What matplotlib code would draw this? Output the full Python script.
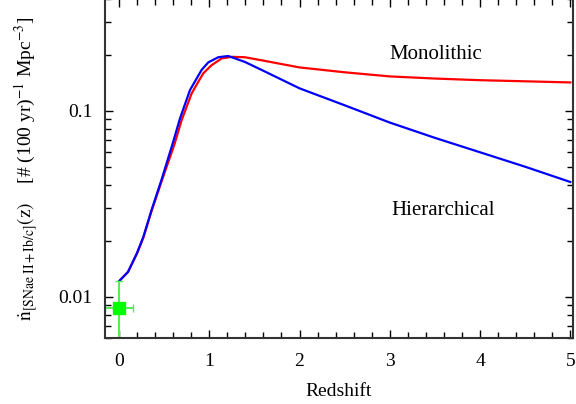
import numpy as np
import matplotlib.pyplot as plt
from matplotlib.ticker import MultipleLocator, LogLocator, NullFormatter, FixedLocator, FixedFormatter

plt.rcParams['font.family'] = ['Liberation Serif', 'DejaVu Serif']
plt.rcParams['mathtext.fontset'] = 'stix'

# SN II + Ib/c rate density vs redshift
z_hier = [0.0, 0.1, 0.2, 0.27, 0.36, 0.47, 0.59, 0.676, 0.786, 0.86, 0.916, 0.989, 1.1, 1.21, 1.395, 1.6, 2.0, 2.5, 3.0, 3.5, 4.0, 4.5, 5.0]
n_hier = [0.0121, 0.0136, 0.0172, 0.0210, 0.0292, 0.0424, 0.0655, 0.091, 0.129, 0.149, 0.166, 0.182, 0.194, 0.197, 0.183, 0.164, 0.132, 0.107, 0.0864, 0.0715, 0.0598, 0.0500, 0.0414]

z_mono = [0.0, 0.1, 0.2, 0.27, 0.36, 0.47, 0.612, 0.694, 0.805, 0.878, 0.934, 1.027, 1.137, 1.248, 1.395, 1.6, 2.0, 2.5, 3.0, 3.5, 4.0, 4.5, 5.0]
n_mono = [0.0121, 0.0136, 0.0171, 0.0208, 0.0288, 0.0415, 0.0655, 0.089, 0.124, 0.143, 0.159, 0.176, 0.191, 0.195, 0.194, 0.186, 0.171, 0.161, 0.153, 0.149, 0.146, 0.144, 0.142]

# local measurement
obs_z = [0.0]
obs_n = [0.0087]
obs_zerr = [0.15]
obs_nerr = [0.0035]

fig = plt.figure(figsize=(5.76, 4.04), dpi=100)
ax = fig.add_axes([0.1823, 0.1634, 0.8125, 0.8396])

ax.plot(z_mono, n_mono, color='#ff0000', lw=1.6)
ax.plot(z_hier, n_hier, color='#0000ff', lw=1.6)
ax.errorbar(obs_z, obs_n, xerr=obs_zerr, yerr=obs_nerr, fmt='s', color='#00ff00',
            ms=8, ecolor='#55ee55', elinewidth=1.5, capsize=3)

ax.set_yscale('log')
ax.set_xlim(-0.155, 5.03)
ax.set_ylim(0.006, 0.4)

ax.xaxis.set_major_locator(MultipleLocator(1))
ax.xaxis.set_minor_locator(MultipleLocator(0.2))
ax.yaxis.set_major_locator(FixedLocator([0.01, 0.1]))
ax.yaxis.set_major_formatter(FixedFormatter(['0.01', '0.1']))
ax.yaxis.set_minor_locator(LogLocator(base=10, subs=np.arange(2, 10)))
ax.yaxis.set_minor_formatter(NullFormatter())

ax.tick_params(which='both', direction='in', top=True, right=True, labelsize=14)
ax.tick_params(axis='x', pad=11)
ax.tick_params(axis='y', pad=9)
ax.tick_params(which='major', length=6, width=1)
ax.tick_params(which='minor', length=4, width=1)
for s in ax.spines.values():
    s.set_linewidth(1.5)
    s.set_color('#333333')

ax.set_xlabel('Redshift', fontsize=14, labelpad=9)
ax.set_ylabel(r'$\dot{\rm n}_{\rm [SNae\ II+Ib/c]}({\rm z})$    [# (100 yr)$^{-1}$ Mpc$^{-3}$]',
              fontsize=14, labelpad=13)

ax.text(3.0, 0.2, 'Monolithic', fontsize=15, va='center', ha='left')
ax.text(3.02, 0.029, 'Hierarchical', fontsize=15, va='center', ha='left')

fig.savefig('out.png', dpi=100)
